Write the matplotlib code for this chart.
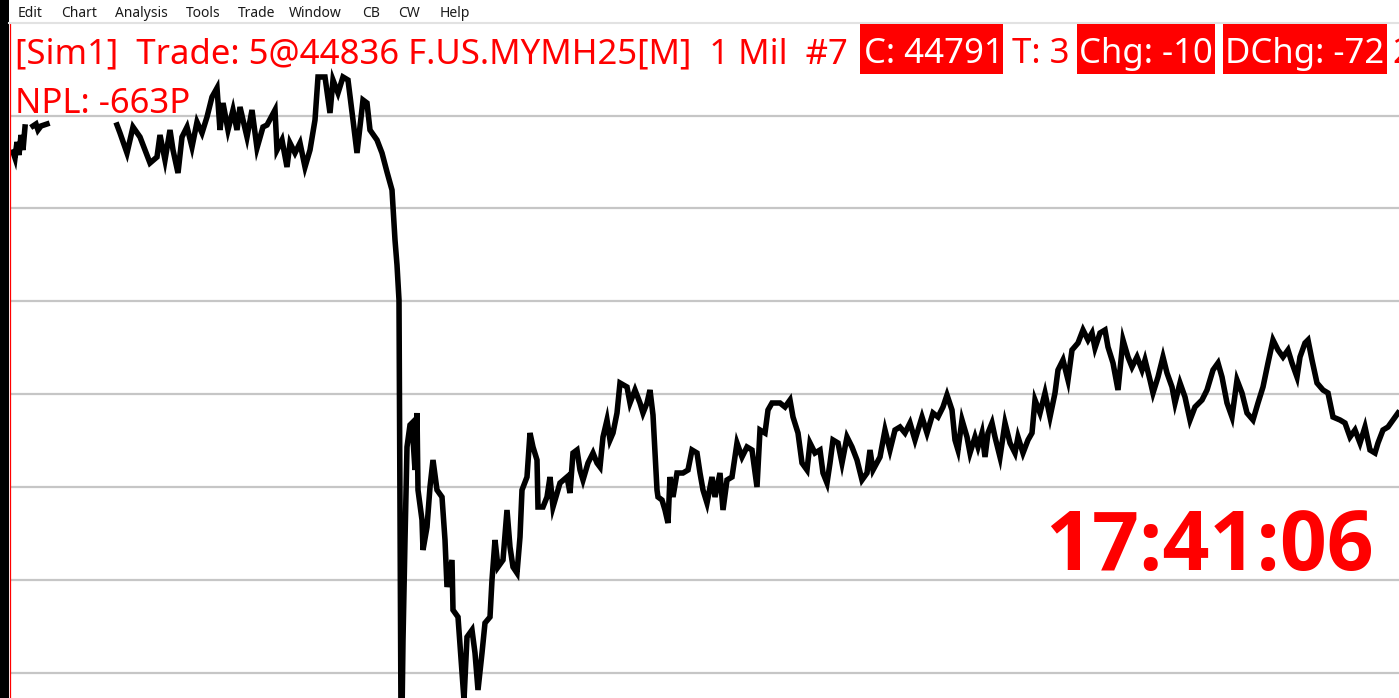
import numpy as np
import matplotlib
matplotlib.use("Agg")
import matplotlib.pyplot as plt
from matplotlib.patches import Rectangle
from matplotlib.lines import Line2D
from matplotlib.transforms import IdentityTransform

W, H = 1399, 698

# ---- data (bar index, price); NaN = no data (gap) ----
bar_index = [13, 15, 17, 19, 21, 23, 25, 29,
             33, 36, 38, 41, 44, 47, 80,
             117, 120, 127, 133, 140, 145, 150, 157, 160, 165, 170, 173, 178, 182, 187, 192, 197,
             202, 207, 212, 217, 220, 223, 228, 233, 237, 240, 247, 252, 257, 263, 267, 275, 277,
             282, 287, 290, 295, 300, 305, 310, 315, 318, 325, 330, 333, 338, 343, 348, 353, 357,
             363, 367, 370, 377, 382, 387, 392, 395, 397, 399, 400, 401, 402, 403, 405, 407, 410,
             412, 415, 417, 418, 422, 423, 427, 430, 433, 437, 442, 445, 447, 452, 453, 458, 462,
             464, 467, 472, 475, 478, 482, 485, 490, 492, 495, 498, 503, 507, 510, 513, 517, 520,
             522, 527, 530, 533, 537, 538, 543, 547, 550, 553, 560, 567, 570, 573, 577, 580, 583,
             588, 593, 597, 600, 603, 607, 610, 613, 617, 620, 627, 630, 635, 640, 643, 647, 650,
             653, 657, 658, 662, 665, 668, 670, 673, 677, 683, 688, 692, 697, 700, 703, 707, 712,
             715, 720, 723, 727, 732, 737, 742, 747, 752, 757, 760, 765, 768, 772, 780, 785, 790,
             793, 798, 802, 807, 810, 815, 820, 823, 827, 830, 833, 838, 842, 847, 852, 857, 862,
             867, 870, 873, 880, 885, 890, 895, 900, 905, 910, 915, 922, 927, 933, 938, 943, 947,
             952, 955, 958, 962, 967, 970, 975, 978, 982, 985, 988, 992, 995, 1000, 1005, 1010,
             1015, 1018, 1023, 1028, 1032, 1035, 1040, 1045, 1050, 1055, 1058, 1063, 1068, 1072,
             1078, 1083, 1088, 1092, 1095, 1100, 1105, 1108, 1113, 1118, 1123, 1128, 1132, 1137,
             1142, 1145, 1150, 1153, 1158, 1163, 1167, 1172, 1175, 1180, 1185, 1190, 1195, 1202,
             1207, 1213, 1218, 1222, 1227, 1232, 1237, 1242, 1247, 1253, 1258, 1263, 1268, 1273,
             1278, 1283, 1288, 1292, 1297, 1300, 1305, 1308, 1312, 1317, 1323, 1328, 1333, 1340,
             1345, 1350, 1355, 1360, 1365, 1370, 1375, 1378, 1383, 1388, 1393, 1398]

price = [45054, 45048, 45064, 45051, 45071, 45056, 45079, np.nan,
         45080, 45082, 45076, 45080, 45081, 45082, np.nan,
         45081, 45073, 45053, 45079, 45069, 45056, 45043, 45049, 45071, 45046, 45076, 45056, 45033, 45069, 45079, 45059, 45084,
         45073, 45089, 45109, 45118, 45076, 45103, 45076, 45096, 45076, 45099, 45069, 45096, 45058, 45079, 45081, 45096, 45056,
         45066, 45039, 45063, 45053, 45063, 45039, 45056, 45086, 45129, 45129, 45093, 45126, 45113, 45129, 45126, 45086, 45053,
         45106, 45103, 45076, 45066, 45053, 45034, 45016, 44966, 44941, 44906, 44706, 44486, 44491, 44566, 44666, 44759, 44781,
         44783, 44736, 44793, 44716, 44686, 44656, 44679, 44719, 44746, 44716, 44709, 44666, 44619, 44646, 44596, 44589, 44533,
         44506, 44569, 44576, 44553, 44516, 44553, 44583, 44589, 44626, 44666, 44639, 44646, 44696, 44659, 44639, 44633, 44669,
         44716, 44729, 44773, 44759, 44746, 44699, 44699, 44709, 44729, 44699, 44723, 44729, 44713, 44753, 44756, 44736, 44726,
         44743, 44753, 44743, 44739, 44769, 44786, 44766, 44773, 44793, 44823, 44819, 44803, 44816, 44803, 44793, 44803, 44816,
         44791, 44716, 44709, 44706, 44696, 44683, 44729, 44709, 44733, 44733, 44736, 44756, 44753, 44733, 44716, 44703, 44729,
         44709, 44733, 44696, 44726, 44729, 44763, 44749, 44759, 44756, 44719, 44776, 44773, 44796, 44803, 44803, 44799, 44806,
         44789, 44773, 44743, 44736, 44763, 44753, 44756, 44733, 44723, 44743, 44766, 44763, 44743, 44769, 44759, 44746, 44726,
         44733, 44756, 44736, 44749, 44776, 44756, 44776, 44779, 44773, 44783, 44766, 44789, 44773, 44793, 44789, 44799, 44811,
         44796, 44766, 44756, 44786, 44769, 44753, 44769, 44759, 44773, 44749, 44773, 44783, 44769, 44749, 44783, 44763,
         44753, 44769, 44753, 44766, 44773, 44806, 44793, 44813, 44789, 44813, 44836, 44846, 44826, 44856,
         44863, 44876, 44866, 44873, 44858, 44873, 44876, 44859, 44843, 44816, 44866, 44849, 44839, 44849,
         44836, 44846, 44826, 44813, 44829, 44849, 44833, 44819, 44803, 44823, 44809, 44786, 44799, 44806,
         44816, 44836, 44843, 44829, 44803, 44789, 44826, 44813, 44793, 44786, 44803, 44819, 44843, 44866,
         44856, 44849, 44856, 44843, 44829, 44849, 44863, 44866, 44846, 44823, 44816, 44813, 44789, 44786,
         44783, 44769, 44776, 44763, 44779, 44756, 44753, 44763, 44776, 44779, 44786, 44793]

grid_levels = [45090, 44998, 44905, 44812, 44719, 44626, 44533]

menu_items = ["Edit", "Chart", "Analysis", "Tools", "Trade", "Window", "CB", "CW", "Help"]
menu_x = [18, 61, 115, 186, 238, 289, 362, 398, 440]

header_main = "[Sim1]  Trade: 5@44836 F.US.MYMH25[M]  1 Mil  #7"
header_close = "C: 44791"
header_ticks = "T: 3"
header_chg = "Chg: -10"
header_dchg = "DChg: -72"
header_next = "2"
npl_text = "NPL: -663P"
clock_text = "17:41:06"

RED = "#ff0000"

fig = plt.figure(figsize=(W / 100, H / 100), dpi=100)
fig.patch.set_facecolor("white")
ident = IdentityTransform()

# ---- chart axes ----
ax = fig.add_axes([11 / W, 0, 1 - 11 / W, (H - 24) / H])
ax.set_facecolor("white")
ax.plot(bar_index, price, color="black", lw=4.0, solid_joinstyle="miter", zorder=3)
ax.set_xlim(11, 1399)
ax.set_ylim(44508, 45182)
ax.set_yticks(grid_levels)
ax.set_xticks([])
ax.grid(axis="y", color="#c6c6c6", lw=1.6)
ax.set_axisbelow(True)
ax.tick_params(left=False, bottom=False, labelleft=False, labelbottom=False)
for s in ax.spines.values():
    s.set_visible(False)

# ---- window chrome ----
fig.add_artist(Rectangle((0, 0), 9, H, transform=ident, facecolor="black", edgecolor="none", zorder=10))
fig.add_artist(Line2D([10, 10], [0, H - 23], transform=ident, color=RED, lw=0.9, zorder=10))
fig.add_artist(Line2D([9, W], [H - 23, H - 23], transform=ident, color="#e2e2e2", lw=1.5, zorder=10))

for name, x in zip(menu_items, menu_x):
    fig.text(x, H - 17, name, transform=ident, fontsize=10, family="Noto Sans",
             color="#1a1a1a", va="baseline", ha="left", zorder=11)

rend = fig.canvas.get_renderer()

# ---- header text ----
base_fs = 25
t = fig.text(15, H - 63, header_main, transform=ident, fontsize=base_fs,
             family="Noto Sans", color=RED, va="baseline", ha="left", zorder=12)
bb = t.get_window_extent(rend)
fs = base_fs * 833 / bb.width
t.set_fontsize(fs)

# red boxes (pixel layout)
boxes = [(860, 1003), (1077, 1215), (1223, 1387)]
for x0, x1 in boxes:
    fig.add_artist(Rectangle((x0, H - 74), x1 - x0, 50, transform=ident,
                             facecolor=RED, edgecolor="none", zorder=11))

pieces = [(864, header_close, "white"), (1012, header_ticks, RED),
          (1079, header_chg, "white"), (1225, header_dchg, "white"),
          (1392, header_next, RED)]
for x, s, c in pieces:
    fig.text(x, H - 63, s, transform=ident, fontsize=fs, family="Noto Sans",
             color=c, va="baseline", ha="left", zorder=12)

fig.text(15, H - 113, npl_text, transform=ident, fontsize=fs, family="Noto Sans",
         color=RED, va="baseline", ha="left", zorder=12)

# ---- clock ----
c = fig.text(1045, H - 570, clock_text, transform=ident, fontsize=60, family="Open Sans",
             weight="bold", color=RED, va="baseline", ha="left", zorder=12)
cb = c.get_window_extent(rend)
c.set_fontsize(60 * 328 / cb.width)

fig.savefig("out.png", dpi=100, facecolor="white")
